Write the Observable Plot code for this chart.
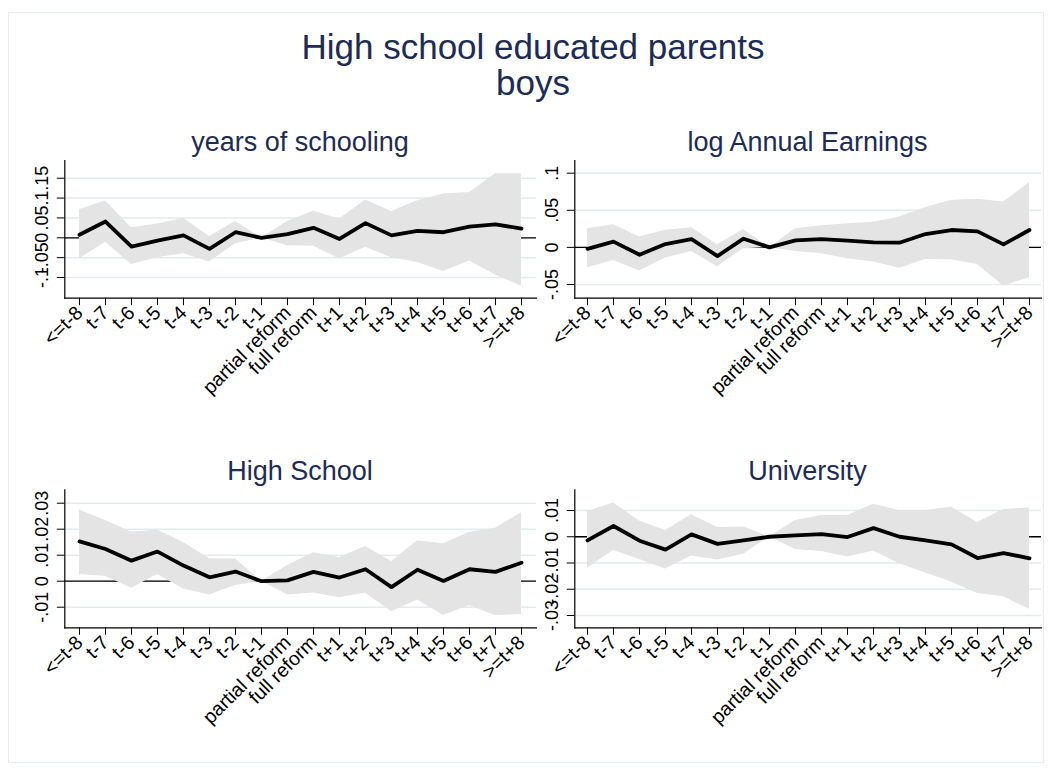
<!DOCTYPE html>
<html><head><meta charset="utf-8">
<script src="https://cdn.jsdelivr.net/npm/d3@7"></script>
<script src="https://cdn.jsdelivr.net/npm/@observablehq/plot@0.6"></script>
<style>
body{margin:0;background:#fff;}
#wrap{position:relative;width:1051px;height:774px;overflow:hidden;font-family:"Liberation Sans",Arial,sans-serif;background:#fff;}
.t{position:absolute;text-align:center;color:#1c2b57;white-space:nowrap;}
.p{position:absolute;}
.p svg{overflow:visible;background:transparent;}
#border{position:absolute;left:8px;top:12px;width:1034px;height:749px;border:1px solid #e6eef0;}
</style></head><body><div id="wrap"><div id="border"></div></div>
<script>
const categories = ["<=t-8","t-7","t-6","t-5","t-4","t-3","t-2","t-1","partial reform","full reform","t+1","t+2","t+3","t+4","t+5","t+6","t+7",">=t+8"];

const schoolingCoef = [0.0075, 0.041, -0.022, -0.007, 0.006, -0.028, 0.014, 0, 0.009, 0.025, -0.003, 0.037, 0.006, 0.0175, 0.014, 0.028, 0.034, 0.023];
const schoolingHi   = [0.071, 0.0925, 0.025, 0.035, 0.049, 0.003, 0.041, 0, 0.041, 0.067, 0.047, 0.095, 0.066, 0.093, 0.11, 0.114, 0.1615, 0.1615];
const schoolingLo   = [-0.053, -0.011, -0.0675, -0.05, -0.04, -0.061, -0.015, 0, -0.02, -0.021, -0.053, -0.024, -0.05, -0.062, -0.085, -0.0585, -0.094, -0.122];

const earningsCoef = [-0.002, 0.0077, -0.0099, 0.0045, 0.011, -0.0117, 0.0117, 0, 0.0095, 0.011, 0.009, 0.0068, 0.0063, 0.018, 0.0234, 0.0216, 0.004, 0.0234];
const earningsHi   = [0.025, 0.0306, 0.014, 0.023, 0.0266, 0.0036, 0.024, 0, 0.025, 0.029, 0.032, 0.034, 0.041, 0.0536, 0.0635, 0.065, 0.061, 0.087];
const earningsLo   = [-0.0275, -0.0176, -0.032, -0.0144, -0.0054, -0.026, -0.002, 0, -0.0054, -0.0086, -0.0153, -0.0198, -0.028, -0.0162, -0.0167, -0.023, -0.052, -0.041];

const highSchoolCoef = [0.0153, 0.0124, 0.0079, 0.0114, 0.006, 0.0015, 0.0037, 0, 0.0003, 0.0036, 0.0014, 0.0046, -0.0023, 0.0044, 0.0001, 0.0046, 0.0036, 0.0071];
const highSchoolHi   = [0.0274, 0.0233, 0.0188, 0.0197, 0.0149, 0.0086, 0.0085, 0, 0.006, 0.0109, 0.0091, 0.0133, 0.0076, 0.0156, 0.0144, 0.0188, 0.0204, 0.0263];
const highSchoolLo   = [0.0026, 0.0019, -0.0027, 0.0026, -0.003, -0.0053, -0.0017, 0, -0.0053, -0.0045, -0.0064, -0.0045, -0.0117, -0.0072, -0.0132, -0.0094, -0.0132, -0.0128];

const universityCoef = [-0.0014, 0.0041, -0.0015, -0.0049, 0.0009, -0.0027, -0.0014, 0, 0.0005, 0.001, -0.0001, 0.0033, 0, -0.0014, -0.0029, -0.0081, -0.0062, -0.0082];
const universityHi   = [0.0096, 0.0129, 0.006, 0.0024, 0.0084, 0.0035, 0.0037, 0, 0.0062, 0.0081, 0.0081, 0.0124, 0.01, 0.01, 0.0113, 0.0054, 0.0104, 0.011];
const universityLo   = [-0.0119, -0.0052, -0.0087, -0.0123, -0.0073, -0.0089, -0.0067, 0, -0.0049, -0.0056, -0.0077, -0.0054, -0.0103, -0.0138, -0.0172, -0.0216, -0.0229, -0.0276];

const schoolingTicks = [-0.1, -0.05, 0, 0.05, 0.1, 0.15];
const schoolingTickLabels = ["-.1", "-.05", "0", ".05", ".1", ".15"];
const earningsTicks = [-0.05, 0, 0.05, 0.1];
const earningsTickLabels = ["-.05", "0", ".05", ".1"];
const highSchoolTicks = [-0.01, 0, 0.01, 0.02, 0.03];
const highSchoolTickLabels = ["-.01", "0", ".01", ".02", ".03"];
const universityTicks = [-0.03, -0.02, -0.01, 0, 0.01];
const universityTickLabels = ["-.03", "-.02", "-.01", "0", ".01"];

const mainTitle = ["High school educated parents", "boys"];
const panelTitles = ["years of schooling", "log Annual Earnings", "High School", "University"];

const wrap = document.getElementById("wrap");

function addText(txt, cls, css) {
  const d = document.createElement("div");
  d.className = cls;
  d.textContent = txt;
  Object.assign(d.style, css);
  wrap.appendChild(d);
  return d;
}

function panel(o) {
  const data = categories.map((c, i) => ({c, coef: o.coef[i], lo: o.lo[i], hi: o.hi[i]}));
  const fmt = new Map(o.ticks.map((t, i) => [t, o.labels[i]]));
  const svg = Plot.plot({
    width: o.width, height: o.height,
    marginLeft: o.ml, marginRight: o.mr, marginTop: o.mt, marginBottom: o.height - o.mt - o.ph,
    style: {fontFamily: "'Liberation Sans', Arial, sans-serif", fontSize: "18px", color: "black", background: "transparent", overflow: "visible"},
    x: {type: "point", domain: categories, padding: 0, inset: 12, label: null},
    y: {domain: o.domain, label: null},
    marks: [
      Plot.gridY(o.ticks, {stroke: "#e2ebee", strokeOpacity: 1, strokeWidth: 1.5}),
      Plot.ruleY([0], {stroke: "black", strokeWidth: 1.3}),
      Plot.areaY(data, {x: "c", y1: "lo", y2: "hi", fill: "#e4e4e4", fillOpacity: 1}),
      Plot.lineY(data, {x: "c", y: "coef", stroke: "black", strokeWidth: 3.8}),
      Plot.axisY(o.ticks, {tickFormat: d => fmt.get(d), tickRotate: -90, tickSize: 7.5, tickPadding: 9, fontSize: 18, stroke: "black", label: null}),
      Plot.axisX({tickRotate: -45, tickSize: 7.5, tickPadding: 4, fontSize: 19.5, stroke: "black", label: null}),
      Plot.frame({anchor: "left", stroke: "black", strokeWidth: 1.2}),
      Plot.frame({anchor: "bottom", stroke: "black", strokeWidth: 1.2})
    ]
  });
  const d = document.createElement("div");
  d.className = "p";
  d.style.left = o.left + "px";
  d.style.top = o.top + "px";
  d.appendChild(svg);
  wrap.appendChild(d);
}

// main title
addText(mainTitle[0], "t", {left: "33px", width: "1000px", top: "29px", fontSize: "35px", lineHeight: "36px"});
addText(mainTitle[1], "t", {left: "33px", width: "1000px", top: "65px", fontSize: "35px", lineHeight: "36px"});

// panel titles (centered on plot regions)
addText(panelTitles[0], "t", {left: "0px", width: "600px", top: "129px", fontSize: "27px", lineHeight: "27px"});
addText(panelTitles[1], "t", {left: "507.5px", width: "600px", top: "129px", fontSize: "27px", lineHeight: "27px"});
addText(panelTitles[2], "t", {left: "0px", width: "600px", top: "458px", fontSize: "27px", lineHeight: "27px"});
addText(panelTitles[3], "t", {left: "507.5px", width: "600px", top: "458px", fontSize: "27px", lineHeight: "27px"});

panel({coef: schoolingCoef, lo: schoolingLo, hi: schoolingHi, ticks: schoolingTicks, labels: schoolingTickLabels,
  domain: [-0.1521, 0.1946], left: 0, top: 130, width: 540, height: 290, ml: 64.3, mr: 4, mt: 30, ph: 137.7});
panel({coef: earningsCoef, lo: earningsLo, hi: earningsHi, ticks: earningsTicks, labels: earningsTickLabels,
  domain: [-0.0685, 0.1171], left: 540, top: 130, width: 511, height: 290, ml: 34.3, mr: 10, mt: 30, ph: 137.7});
panel({coef: highSchoolCoef, lo: highSchoolLo, hi: highSchoolHi, ticks: highSchoolTicks, labels: highSchoolTickLabels,
  domain: [-0.01792, 0.03515], left: 0, top: 460, width: 540, height: 290, ml: 64.3, mr: 4, mt: 29.3, ph: 138});
panel({coef: universityCoef, lo: universityLo, hi: universityHi, ticks: universityTicks, labels: universityTickLabels,
  domain: [-0.03469, 0.01789], left: 540, top: 460, width: 511, height: 290, ml: 34.3, mr: 10, mt: 29.3, ph: 138});
</script>
</body></html>
